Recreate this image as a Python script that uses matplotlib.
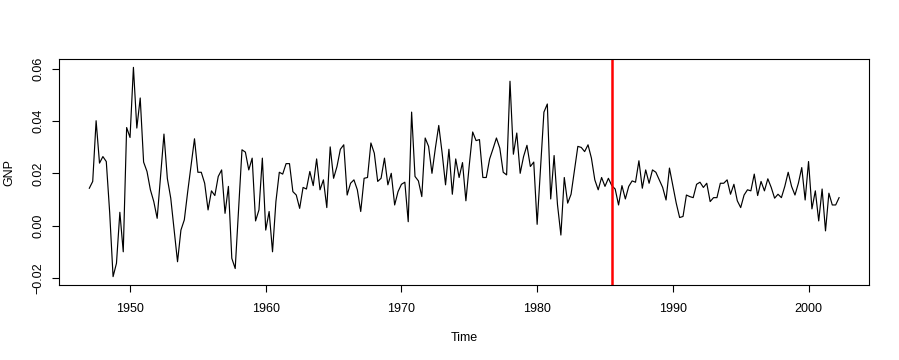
import matplotlib
matplotlib.use("Agg")
import matplotlib.pyplot as plt
import numpy as np

# quarterly GNP growth rate, 1947 Q1 .. 2002 Q2
start_year = 1947.0
gnp = [
    0.0143, 0.0169, 0.0401, 0.0239, 0.0264, 0.0245, 0.0050, -0.0195, -0.0144, 0.0051,
    -0.0100, 0.0375, 0.0337, 0.0605, 0.0373, 0.0488, 0.0243, 0.0207, 0.0137, 0.0092,
    0.0028, 0.0190, 0.0350, 0.0180, 0.0105, -0.0017, -0.0138, -0.0017, 0.0022, 0.0130,
    0.0232, 0.0332, 0.0204, 0.0204, 0.0162, 0.0060, 0.0133, 0.0115, 0.0188, 0.0213,
    0.0047, 0.0150, -0.0125, -0.0164, 0.0066, 0.0290, 0.0281, 0.0213, 0.0258, 0.0018,
    0.0060, 0.0258, -0.0017, 0.0054, -0.0100, 0.0092, 0.0204, 0.0197, 0.0237, 0.0237,
    0.0130, 0.0117, 0.0066, 0.0146, 0.0140, 0.0207, 0.0153, 0.0255, 0.0137, 0.0175,
    0.0069, 0.0301, 0.0181, 0.0226, 0.0292, 0.0309, 0.0117, 0.0162, 0.0175, 0.0137,
    0.0054, 0.0181, 0.0184, 0.0316, 0.0277, 0.0169, 0.0181, 0.0258, 0.0156, 0.0200,
    0.0079, 0.0130, 0.0158, 0.0166, 0.0015, 0.0434, 0.0188, 0.0171, 0.0111, 0.0335,
    0.0303, 0.0200, 0.0296, 0.0383, 0.0277, 0.0156, 0.0292, 0.0120, 0.0255, 0.0184,
    0.0241, 0.0095, 0.0232, 0.0358, 0.0325, 0.0329, 0.0184, 0.0184, 0.0255, 0.0294,
    0.0335, 0.0296, 0.0204, 0.0194, 0.0552, 0.0273, 0.0354, 0.0200, 0.0264, 0.0307,
    0.0226, 0.0243, 0.0005, 0.0220, 0.0434, 0.0465, 0.0102, 0.0268, 0.0080, -0.0036,
    0.0184, 0.0086, 0.0120, 0.0213, 0.0303, 0.0299, 0.0283, 0.0309, 0.0258, 0.0175,
    0.0137, 0.0184, 0.0150, 0.0181, 0.0153, 0.0140, 0.0079, 0.0153, 0.0102, 0.0150,
    0.0171, 0.0166, 0.0248, 0.0143, 0.0213, 0.0162, 0.0213, 0.0204, 0.0175, 0.0146,
    0.0098, 0.0220, 0.0153, 0.0086, 0.0031, 0.0035, 0.0117, 0.0111, 0.0107, 0.0158,
    0.0166, 0.0146, 0.0162, 0.0092, 0.0107, 0.0107, 0.0162, 0.0162, 0.0175, 0.0120,
    0.0158, 0.0095, 0.0069, 0.0117, 0.0137, 0.0133, 0.0197, 0.0115, 0.0169, 0.0133,
    0.0179, 0.0146, 0.0105, 0.0120, 0.0107, 0.0150, 0.0204, 0.0150, 0.0117, 0.0162,
    0.0222, 0.0098, 0.0245, 0.0064, 0.0133, 0.0018, 0.0140, -0.0020, 0.0124, 0.0079,
    0.0079, 0.0107,
]
break_year = 1985.5
x_ticks = [1950, 1960, 1970, 1980, 1990, 2000]
y_ticks = [-0.02, 0.00, 0.02, 0.04, 0.06]

t = start_year + np.arange(len(gnp)) / 4

plt.rcParams['font.family'] = ['Liberation Sans', 'DejaVu Sans']

fig = plt.figure(figsize=(8.99, 3.6), dpi=100)
ax = fig.add_axes([0.066, 0.2083, 0.9007, 0.6278])

ax.plot(t, gnp, color='black', lw=0.85)
ax.axvline(break_year, color='red', lw=1.8)

# R-style 4% padding around the data range
ax.set_xlim(1944.79, 2004.46)
ax.set_ylim(-0.0227, 0.0637)
ax.set_xticks(x_ticks)
ax.set_xticklabels([str(v) for v in x_ticks])
ax.set_yticks(y_ticks)
ax.set_yticklabels([f'{v:.2f}'.replace('-', '\u2212') for v in y_ticks],
                   rotation=90, va='center')
ax.tick_params(direction='out', length=5, width=0.8, labelsize=9)
ax.tick_params(axis='x', pad=8)
ax.tick_params(axis='y', pad=6)

for s in ax.spines.values():
    s.set_linewidth(0.8)

ax.set_xlabel('Time', fontsize=9, labelpad=12)
ax.set_ylabel('GNP', fontsize=9, labelpad=12)

fig.savefig('out.png', dpi=100)
